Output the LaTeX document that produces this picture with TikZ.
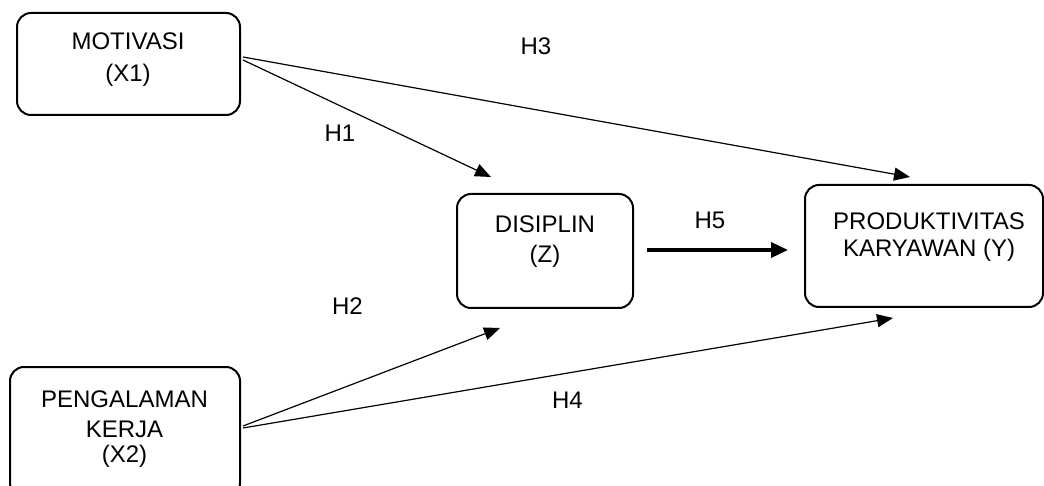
\documentclass[tikz,border=0pt]{standalone}
\usepackage{fontspec}
\setmainfont{Liberation Sans}
\usetikzlibrary{arrows.meta}
\begin{document}
\begin{tikzpicture}[x=1pt,y=1pt,
  box/.style={draw, line width=2pt, rounded corners=14pt, inner sep=0pt},
  txt/.style={inner sep=0pt, anchor=base, font=\fontsize{24}{28}\selectfont},
  conn/.style={line width=1.2pt, -{Triangle[length=16pt,width=13pt]}},
  thick conn/.style={line width=3.5pt, -{Triangle[length=17pt,width=15pt]}}]
\useasboundingbox (0,0) rectangle (1044,485);
% boxes
\node[box, minimum width=223pt, minimum height=102pt] (x1) at (128.5,421) {};
\node[box, minimum width=176pt, minimum height=114pt] (z) at (545,234) {};
\node[box, minimum width=238pt, minimum height=122pt] (y) at (924,239) {};
\node[box, minimum width=230pt, minimum height=130pt] (x2) at (125,53) {};
% box texts
\node[txt] (x1a) at (128,435) {MOTIVASI};
\node[txt] (x1b) at (128,403) {(X1)};
\node[txt] (za) at (545,252) {DISIPLIN};
\node[txt] (zb) at (545,222) {(Z)};
\node[txt] (ya) at (929,255) {PRODUKTIVITAS};
\node[txt] (yb) at (929,228) {KARYAWAN (Y)};
\node[txt] (x2a) at (124.5,78) {PENGALAMAN};
\node[txt] (x2b) at (124.5,48) {KERJA};
\node[txt] (x2c) at (124.5,23) {(X2)};
% hypothesis labels
\node[txt] (h3) at (536,430) {H3};
\node[txt] (h1) at (340,343) {H1};
\node[txt] (h2) at (347.5,170) {H2};
\node[txt] (h4) at (567.5,77) {H4};
\node[txt] (h5) at (710,256) {H5};
% arrow tips
\coordinate (t1) at (491,308);
\coordinate (t3) at (910,308);
\coordinate (t2) at (500,157);
\coordinate (t4) at (893,167);
\coordinate (t5) at (788,235);
% connectors
\draw[conn] ([shift={(2pt,4pt)}]x1.east) -- (t1);
\draw[conn] ([shift={(2pt,7pt)}]x1.east) -- (t3);
\draw[conn] ([shift={(2pt,6pt)}]x2.east) -- (t2);
\draw[conn] ([shift={(2pt,4pt)}]x2.east) -- (t4);
\draw[thick conn] ([shift={(13pt,1pt)}]z.east) -- (t5);
\end{tikzpicture}
\end{document}
